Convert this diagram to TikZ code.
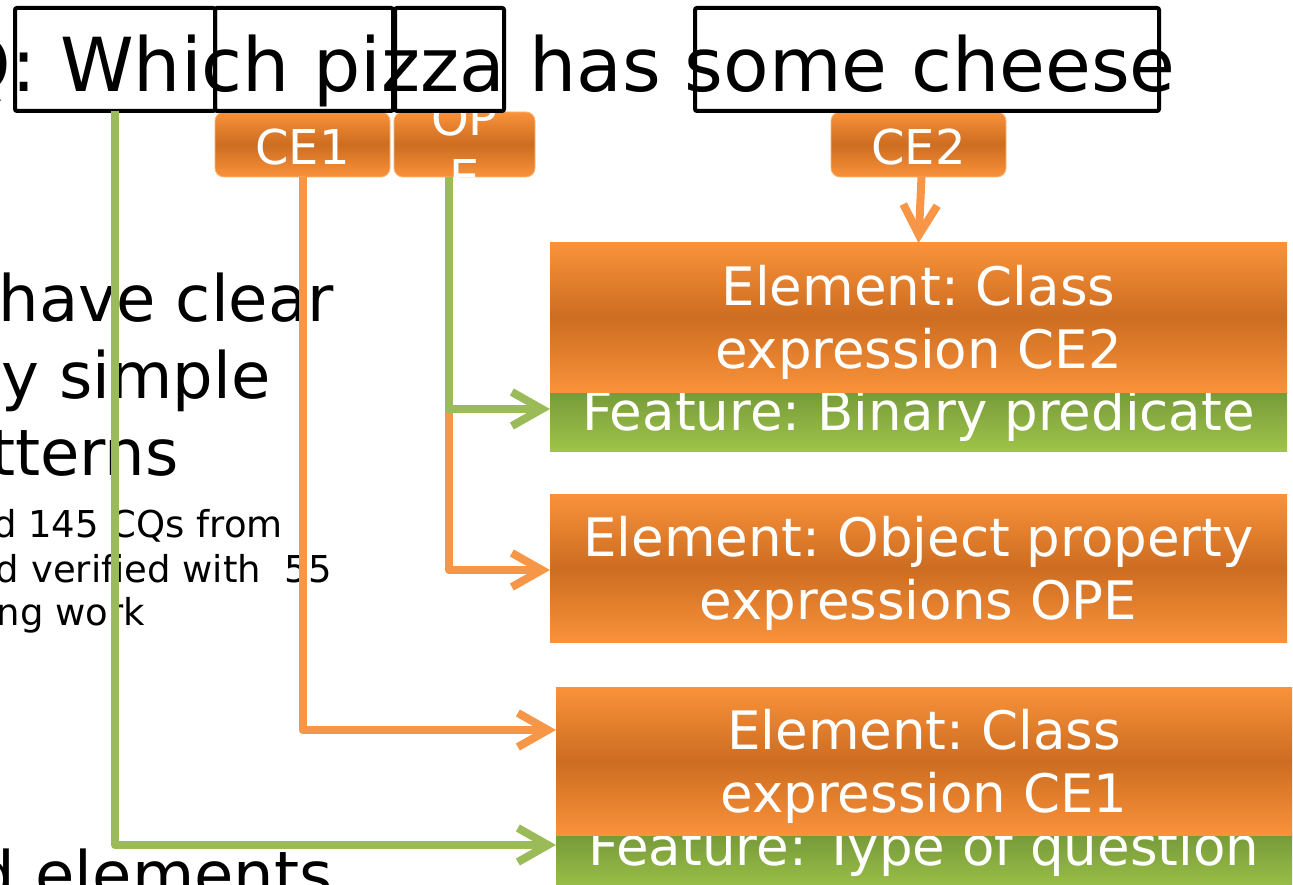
\documentclass[tikz,border=0pt]{standalone}
\usepackage{fontspec}
\setmainfont{DejaVu Sans}
\usetikzlibrary{arrows.meta}

\definecolor{orlight}{HTML}{F9923A}
\definecolor{ordark}{HTML}{CD6D21}
\definecolor{orline}{HTML}{F79646}
\definecolor{grline}{HTML}{9BBB59}
\definecolor{grdark}{HTML}{779A3A}
\definecolor{grlight}{HTML}{9FC448}

\tikzset{
  qbox/.style={draw=black, line width=4pt, rounded corners=2pt, inner sep=0pt,
    outer sep=0pt, anchor=north west},
  tagbox/.style={rounded corners=9pt, top color=orlight, bottom color=orlight,
    middle color=ordark, draw=orlight!70!white, line width=0.8pt, text=white,
    font=\fontsize{48}{59}\selectfont, text height=41pt, text depth=0pt,
    inner sep=0pt, outer sep=0pt, anchor=north west},
  tagtext/.style={text=white, font=\fontsize{48}{59}\selectfont, align=center,
    inner sep=0pt},
  elbox/.style={top color=orlight, bottom color=orlight, middle color=ordark,
    inner sep=0pt, outer sep=0pt, anchor=north west},
  featbar/.style={top color=grdark, bottom color=grlight, inner sep=0pt,
    outer sep=0pt, anchor=north west},
  eltext/.style={text=white, font=\fontsize{53}{63}\selectfont, align=center,
    inner sep=0pt},
  fttext/.style={text=white, font=\fontsize{53}{63}\selectfont, inner sep=0pt,
    anchor=base},
  bigtext/.style={font=\fontsize{64}{76}\selectfont, inner sep=0pt, anchor=base east},
  smalltext/.style={font=\fontsize{37}{44}\selectfont, inner sep=0pt, anchor=base east},
  conn/.style={line width=8pt, line join=round,
    -{Straight Barb[length=30pt,width=34pt]}},
  oconn/.style={conn, draw=orline},
  gconn/.style={conn, draw=grline},
}

\begin{document}
\frenchspacing
\begin{tikzpicture}[x=1pt,y=-1pt]
\useasboundingbox (0,0) rectangle (1293,885);
\clip (0,0) rectangle (1293,885);

% slide text on the left
\node[bigtext] (p1) at (334,322) {have clear};
\node[bigtext] (p2) at (271,398) {y simple};
\node[bigtext] (p3) at (179,475) {tterns};
\node[smalltext] (s1) at (283,537) {d 145 CQs from};
\node[smalltext] (s2) at (332,582) {d verified with\ \ 55};
\node[smalltext] (s3) at (145,625) {ng work};
\node[bigtext] (p4) at (333,897) {d elements};

% the question
\node[font=\fontsize{74.5}{89}\selectfont, inner sep=0pt, anchor=base west]
  (question) at (-47.4,92) {Q: Which pizza has some cheese};

% orange tags under the question words
\node[tagbox, minimum width=175pt, minimum height=65pt] (ce1) at (215,112) {CE1};
\node[tagbox, minimum width=141pt, minimum height=65pt] (ope) at (394,112) {};
\node[tagtext] (opeT) at ([yshift=-2.5pt]ope.center) {OP\\E};
\node[tagbox, minimum width=175pt, minimum height=65pt] (ce2) at (831,112) {CE2};

% boxes around the question words
\node[qbox, minimum width=200pt, minimum height=103pt] (q1) at (15,8) {};
\node[qbox, minimum width=178pt, minimum height=103pt] (q2) at (215,8) {};
\node[qbox, minimum width=109pt, minimum height=103pt] (q3) at (395,8) {};
\node[qbox, minimum width=464pt, minimum height=103pt] (q4) at (695,8) {};

% element boxes with feature bars
\node[featbar, minimum width=737pt, minimum height=59pt] (featA) at (550,392) {};
\node[fttext] (ftA) at (918.5,430) {Feature: Binary predicate};
\node[elbox, minimum width=737pt, minimum height=149pt] (boxA) at (550,243) {};
\node[eltext] (elA) at ([yshift=-5pt]boxA.center) {Element: Class\\expression CE2};

\node[elbox, minimum width=737pt, minimum height=148pt] (boxB) at (550,494) {};
\node[eltext] (elB) at ([yshift=-5pt]boxB.center) {Element: Object property\\expressions OPE};

\node[featbar, minimum width=736pt, minimum height=59pt] (featC) at (556,835) {};
\node[fttext] (ftC) at (924,865) {Feature: Type of question};
\node[elbox, minimum width=736pt, minimum height=148pt] (boxC) at (556,687) {};
\node[eltext] (elC) at ([yshift=-5pt]boxC.center) {Element: Class\\expression CE1};

% connector heights
\coordinate (yA) at (0,409);
\coordinate (yB) at (0,570);
\coordinate (yC1) at (0,730);
\coordinate (yC2) at (0,845);

% connectors
\draw[oconn] ([xshift=-15.5pt]ope.south) |- (boxB.west |- yB);
\draw[gconn] ([xshift=-15.5pt]ope.south) |- (featA.west |- yA);
\draw[oconn] (ce1.south) |- (boxC.west |- yC1);
\draw[gconn] (q1.south) |- (featC.west |- yC2);
\draw[oconn] ([xshift=3pt]ce2.south) -- (boxA.north);
\end{tikzpicture}
\end{document}
